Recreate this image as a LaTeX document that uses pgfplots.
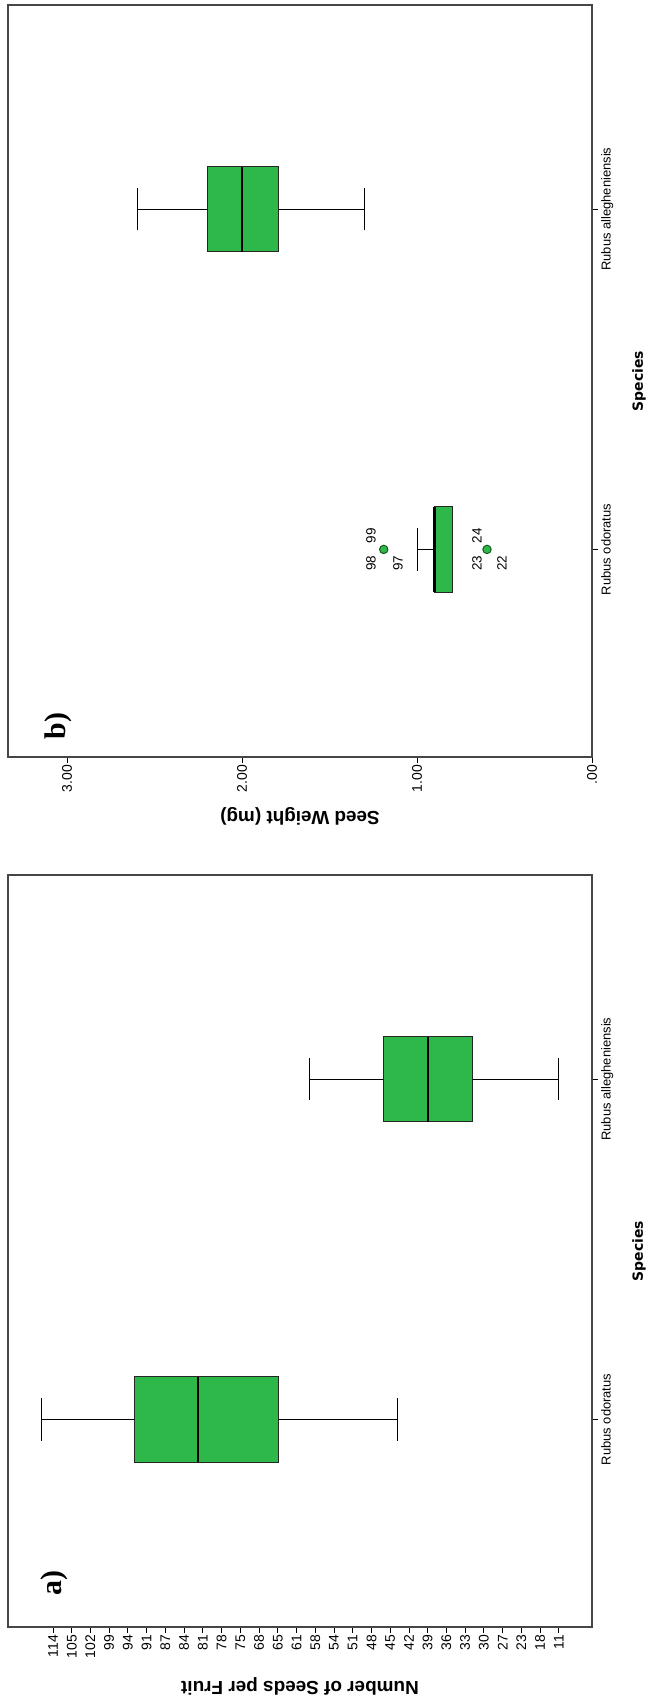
\documentclass[border=0pt]{standalone}
\usepackage{pgfplots}
\pgfplotsset{compat=1.18}
\usepgfplotslibrary{statistics}
\usepackage{fontspec}
\setmainfont{Liberation Sans}
\newfontfamily\serifbf{Liberation Serif}
\newfontfamily\specfont{DejaVu Sans}
\definecolor{boxgreen}{RGB}{46,184,74}
\definecolor{framegray}{RGB}{70,70,70}
\definecolor{outgreen}{RGB}{20,90,30}

\tikzset{caselab/.style={rotate=90, font=\fontsize{13.5}{15}\selectfont, inner sep=0pt}}

\pgfplotsset{
  panel/.style={
    scale only axis, width=584bp, height=752bp,
    anchor=south west,
    axis line style={framegray, line width=1.1bp},
    ymin=0.39, ymax=2.6,
    ytick={1,2}, yticklabels={Rubus odoratus, Rubus allegheniensis},
    ytick pos=upper, yticklabel pos=upper,
    xtick pos=lower,
    tick align=outside,
    major tick length=6bp,
    tick style={black, line width=0.9bp},
    yticklabel style={rotate=90, anchor=north, font=\fontsize{13}{15}\selectfont, inner sep=3bp},
    xticklabel style={rotate=90, anchor=east, font=\fontsize{14}{16}\selectfont, inner sep=2bp},
    every axis y label/.style={at={(rel axis cs:1,0.5)}, anchor=center, xshift=47bp, rotate=90, font=\specfont\fontsize{14}{16}\selectfont\bfseries},
    every axis x label/.style={at={(rel axis cs:0.5,0)}, anchor=center, yshift=-59bp, rotate=180, font=\fontsize{19}{21}\selectfont\bfseries},
    ylabel={Species},
    boxplot/draw direction=x,
    boxplot/box extend=0.25,
    boxplot/whisker extend=0.125,
    boxplot/every box/.style={draw=black!85, fill=boxgreen, line width=0.8bp},
    boxplot/every median/.style={black, line width=2.4bp},
    boxplot/every whisker/.style={black, line width=0.9bp},
    clip=false,
  },
  gbox/.style={solid, mark=none, black},
}

\begin{document}
\begin{tikzpicture}
\useasboundingbox (0,0) rectangle (653bp,1701bp);

% ---------- panel b (top) ----------
\begin{axis}[panel, at={(8bp,944bp)},
  x dir=reverse, xmin=0, xmax=3.337,
  xtick={0,1,2,3}, xticklabels={.00,1.00,2.00,3.00},
  xlabel={Seed Weight (mg)}]
\addplot[gbox, boxplot prepared={draw position=1,
  lower whisker=0.80, lower quartile=0.80, median=0.90,
  upper quartile=0.90, upper whisker=1.00}] coordinates {};
\addplot[gbox, boxplot prepared={draw position=2,
  lower whisker=1.30, lower quartile=1.79, median=2.00,
  upper quartile=2.20, upper whisker=2.60}] coordinates {};
\addplot[only marks, mark=*, mark size=4.2bp,
  mark options={fill=boxgreen, draw=outgreen, line width=1bp}]
  coordinates {(1.19,1) (0.60,1)};
\node[caselab] at (axis cs:1.263,1.040) {99};
\node[caselab] at (axis cs:1.263,0.959) {98};
\node[caselab] at (axis cs:1.109,0.959) {97};
\node[caselab] at (axis cs:0.657,1.040) {24};
\node[caselab] at (axis cs:0.657,0.959) {23};
\node[caselab] at (axis cs:0.514,0.959) {22};
\node[rotate=90, font=\serifbf\bfseries\fontsize{30}{32}\selectfont]
  at (rel axis cs:0.087,0.041) {b)};
\end{axis}

% ---------- panel a (bottom) ----------
\begin{axis}[panel, at={(8bp,74bp)},
  xmin=-2.4, xmax=28.77,
  xtick={0,...,27},
  xticklabels={114,105,102,99,94,91,87,84,81,78,75,68,65,61,58,54,51,48,45,42,39,36,33,30,27,23,18,11},
  xlabel={Number of Seeds per Fruit}]
\addplot[gbox, boxplot prepared={draw position=1,
  lower whisker=-0.64, lower quartile=4.32, median=7.73,
  upper quartile=12.04, upper whisker=18.38}] coordinates {};
\addplot[gbox, boxplot prepared={draw position=2,
  lower whisker=13.69, lower quartile=17.63, median=20.03,
  upper quartile=22.38, upper whisker=27.0}] coordinates {};
\node[rotate=90, font=\serifbf\bfseries\fontsize{30}{32}\selectfont]
  at (rel axis cs:0.080,0.058) {a)};
\end{axis}
\end{tikzpicture}
\end{document}
